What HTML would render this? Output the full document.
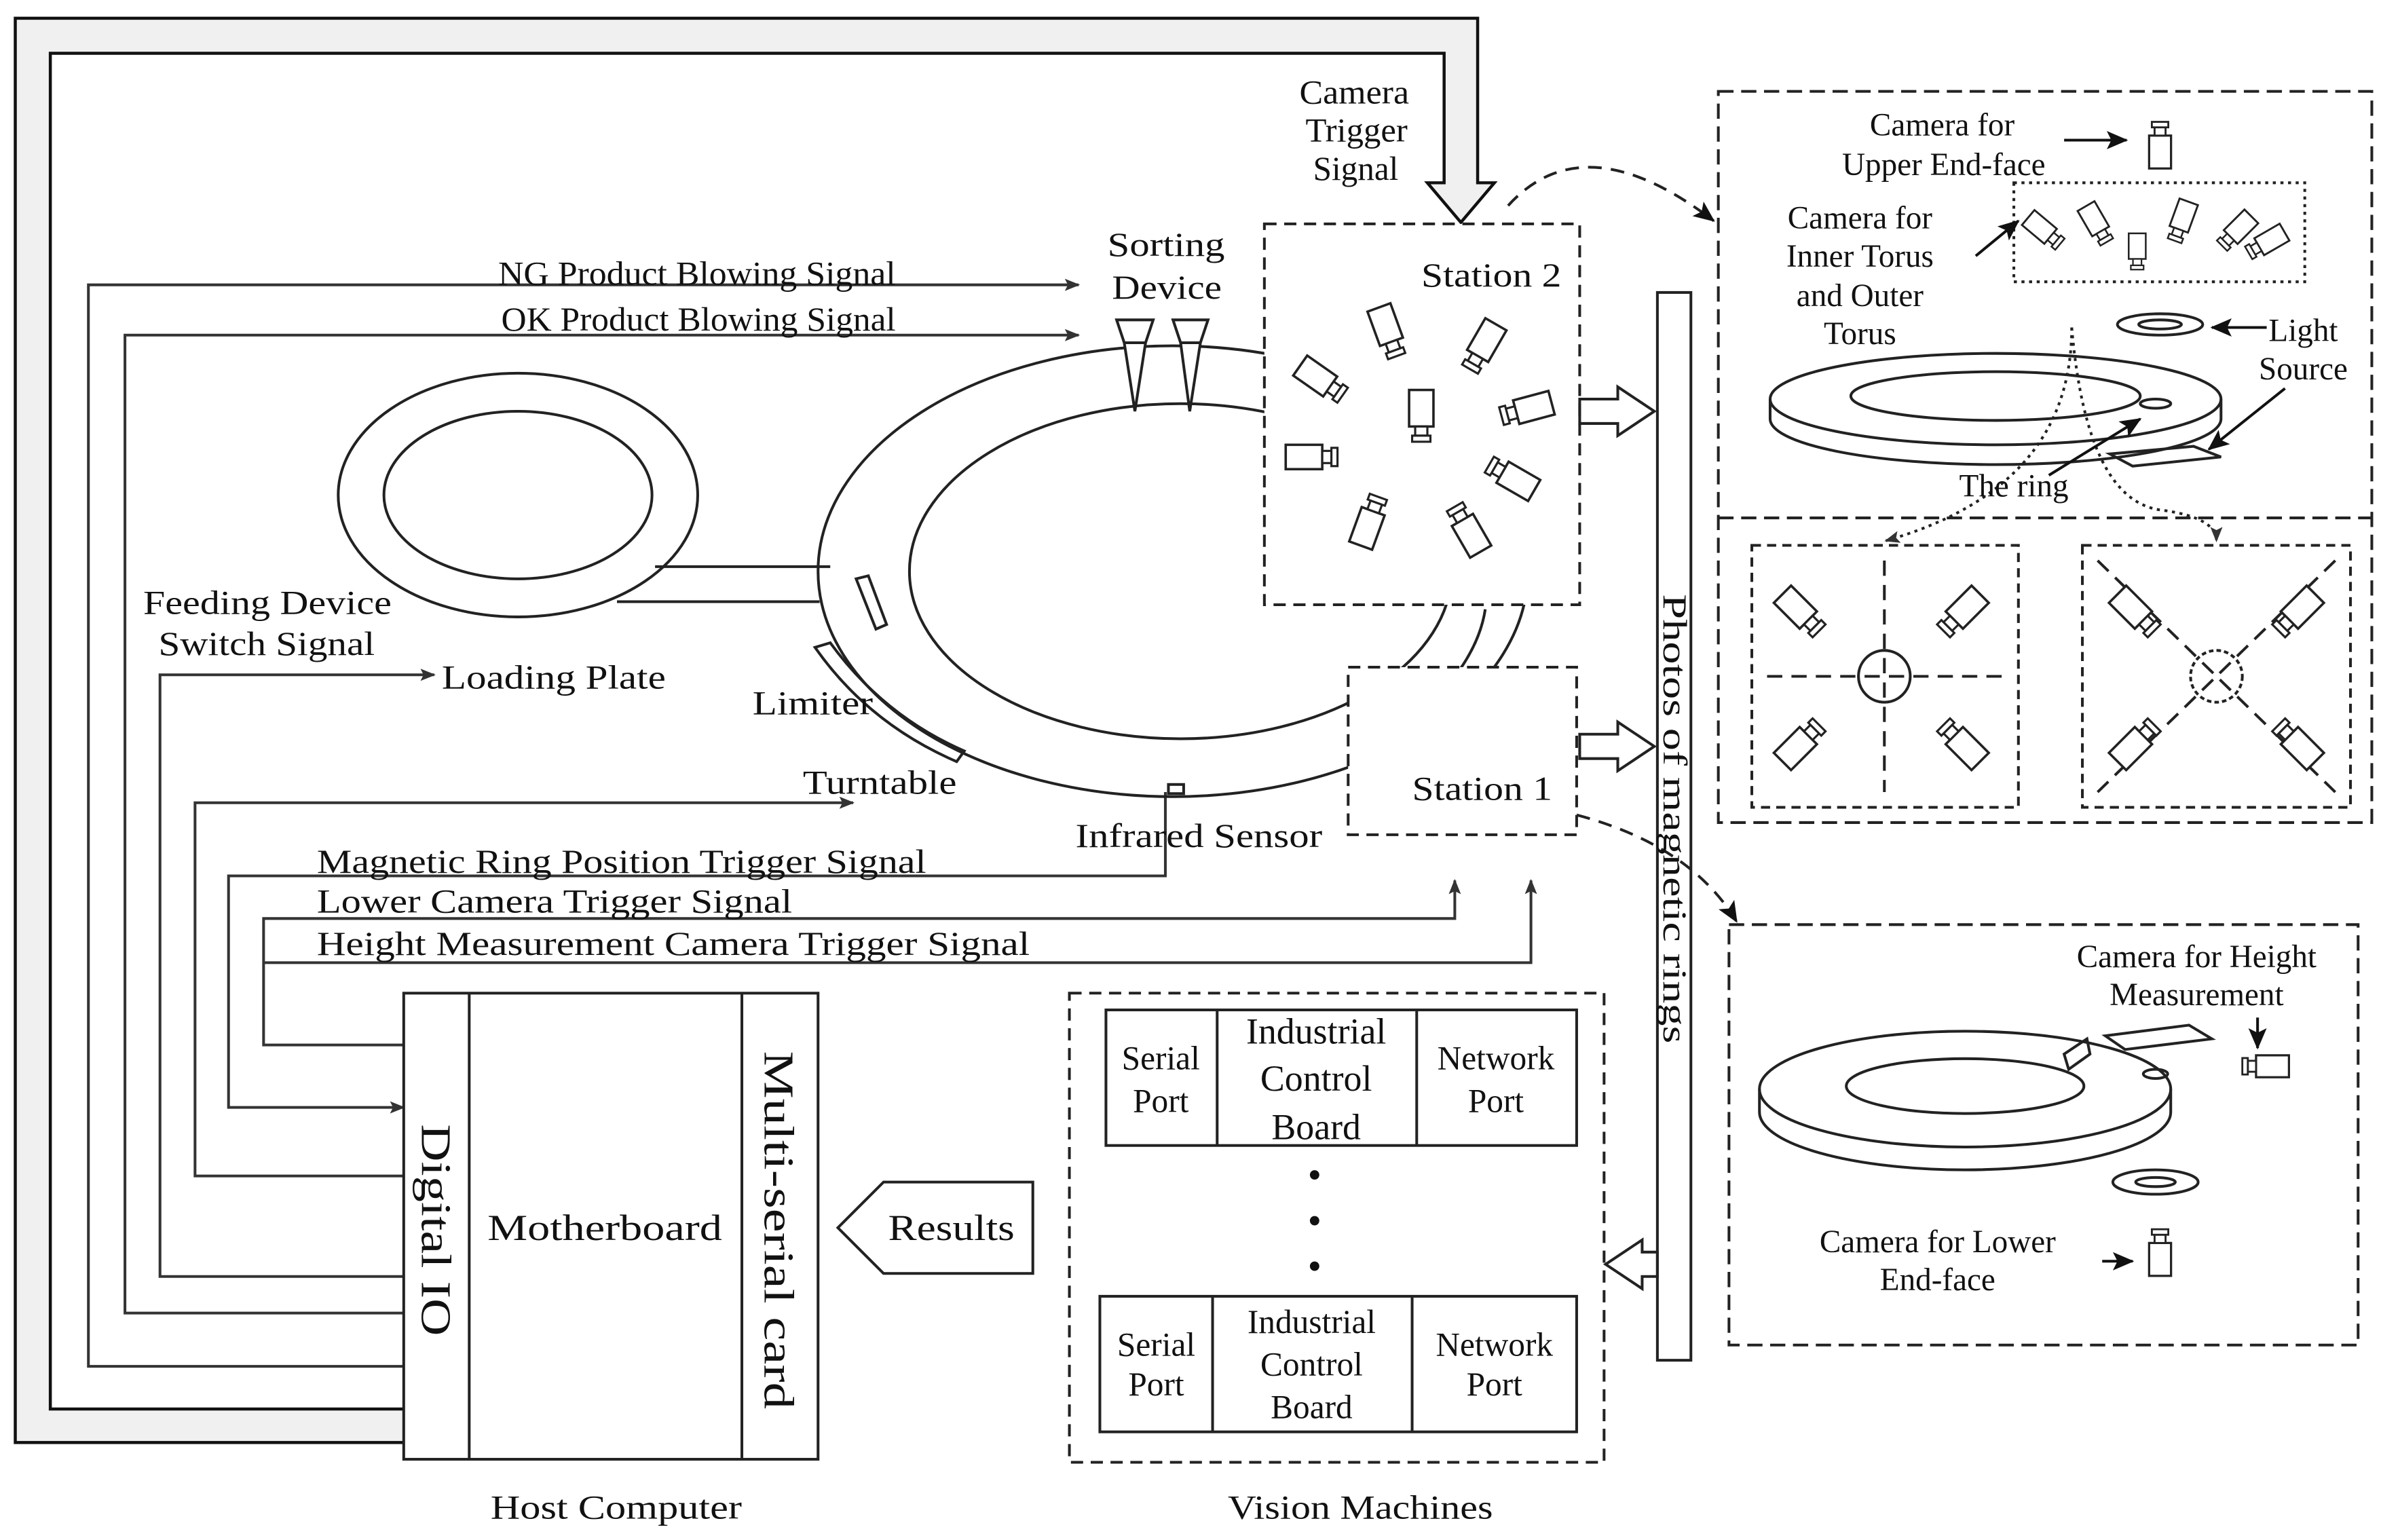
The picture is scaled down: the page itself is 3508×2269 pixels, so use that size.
<!DOCTYPE html>
<html><head><meta charset="utf-8"><style>
html,body{margin:0;padding:0;background:#fff}
svg{display:block}
text{font-family:"Liberation Serif",serif;fill:#111}
</style></head><body>
<svg width="3508" height="2269" viewBox="0 0 1563 1011" xmlns="http://www.w3.org/2000/svg">
<defs>
<marker id="ah" markerWidth="10" markerHeight="8" refX="9" refY="4" orient="auto" markerUnits="userSpaceOnUse" viewBox="0 0 10 8">
<path d="M0,0 L10,4 L0,8 L2,4 Z" fill="#333"/></marker>
<marker id="ah2" markerWidth="14" markerHeight="12" refX="13" refY="6" orient="auto" markerUnits="userSpaceOnUse" viewBox="0 0 14 12">
<path d="M0,0 L14,6 L0,12 L3,6 Z" fill="#111"/></marker>
<g id="cam"><rect x="-8" y="-14" width="16" height="24" fill="#fff" stroke="#222" stroke-width="1.6"/><rect x="-4" y="10" width="8" height="6" fill="#fff" stroke="#222" stroke-width="1.4"/><rect x="-6" y="16" width="12" height="4" fill="#fff" stroke="#222" stroke-width="1.4"/></g>
</defs>
<g fill="none" stroke="#333" stroke-width="1.8">
<path d="M265,947 L10,947 L10,12 L970,12 L970,120 L981,120 L959,146 L937,120 L948,120 L948,35 L33,35 L33,925 L265,925" fill="#f0f0f0" stroke="#111" stroke-width="2"/>
<path d="M265,897 L58,897 L58,187 L708,187" marker-end="url(#ah)"/>
<path d="M265,862 L82,862 L82,220 L708,220" marker-end="url(#ah)"/>
<path d="M265,838 L105,838 L105,443 L285,443" marker-end="url(#ah)"/>
<path d="M265,772 L128,772 L128,527 L560,527" marker-end="url(#ah)"/>
<path d="M765,520 L765,575 L150,575 L150,727 L265,727" marker-end="url(#ah)"/>
<path d="M265,686 L173,686 L173,603 L955,603 L955,578" marker-end="url(#ah)"/>
<path d="M173,632 L1005,632 L1005,578" marker-end="url(#ah)"/>
<ellipse cx="340" cy="325" rx="118" ry="80" stroke="#222"/>
<ellipse cx="340" cy="325" rx="88" ry="55" stroke="#222"/>
<path d="M430,372 L545,372 M405,395 L538,395" stroke="#222"/>
<ellipse cx="770" cy="375" rx="233" ry="148" stroke="#222"/>
<ellipse cx="775" cy="375" rx="178" ry="110" stroke="#222"/>
<path d="M562,380 L570,378 L582,410 L575,413 Z" stroke="#222"/>
<path d="M535,425 L545,422 Q580,470 633,493 L628,500 Q570,475 535,425 Z" stroke="#222"/>
<rect x="767" y="515" width="10" height="6" stroke="#222"/>
<path d="M975,400 Q972,420 958,440" stroke="#222"/>
<path d="M733,210 L757,210 L752,225 L745,270 L738,225 Z M770,210 L793,210 L788,225 L781,270 L775,225 Z" stroke="#222" fill="#fff"/>
<path d="M738,225 L752,225 M775,225 L788,225" stroke="#222"/>
</g>
<rect x="830" y="147" width="207" height="250" fill="#fff" stroke="#222" stroke-width="1.8" stroke-dasharray="8,5"/>
<rect x="885" y="438" width="150" height="110" fill="#fff" stroke="#222" stroke-width="1.8" stroke-dasharray="8,5"/>
<use href="#cam" transform="translate(910,215) rotate(-20)"/>
<use href="#cam" transform="translate(975,225) rotate(30)"/>
<use href="#cam" transform="translate(865,248) rotate(-55)"/>
<use href="#cam" transform="translate(933,270)"/>
<use href="#cam" transform="translate(1005,268) rotate(75)"/>
<use href="#cam" transform="translate(858,300) rotate(-90)"/>
<use href="#cam" transform="translate(995,315) rotate(120)"/>
<use href="#cam" transform="translate(898,345) rotate(-160)"/>
<use href="#cam" transform="translate(965,350) rotate(150)"/>
<g fill="none" stroke="#222" stroke-width="1.8">
<rect x="265" y="652" width="272" height="306" fill="#fff"/>
<path d="M308,652 L308,958 M487,652 L487,958"/>
<path d="M550,806 L580,776 L678,776 L678,836 L580,836 Z"/>
<rect x="702" y="652" width="351" height="308" stroke-dasharray="8,5"/>
<rect x="726" y="663" width="309" height="89"/>
<path d="M799,663 L799,752 M930,663 L930,752"/>
<rect x="722" y="851" width="313" height="89"/>
<path d="M796,851 L796,940 M927,851 L927,940"/>
<rect x="1088" y="192" width="22" height="701"/>
<path d="M1037,262 L1062,262 L1062,254 L1086,270 L1062,286 L1062,278 L1037,278 Z"/>
<path d="M1037,482 L1062,482 L1062,474 L1086,490 L1062,506 L1062,498 L1037,498 Z"/>
<path d="M1088,822 L1078,822 L1078,814 L1054,830 L1078,846 L1078,838 L1088,838 Z"/>
<rect x="1128" y="60" width="429" height="480" stroke-dasharray="10,5"/>
<path d="M1128,340 L1557,340" stroke-dasharray="10,5"/>
<rect x="1150" y="358" width="175" height="172" stroke-dasharray="6,4"/>
<rect x="1367" y="358" width="176" height="172" stroke-dasharray="6,4"/>
<rect x="1322" y="120" width="191" height="65" stroke-dasharray="2,3"/>
<rect x="1135" y="607" width="413" height="276" stroke-dasharray="10,5"/>
<path d="M990,135 Q1040,80 1125,145" stroke-dasharray="9,6" marker-end="url(#ah2)"/>
<path d="M1035,535 Q1110,555 1140,605" stroke-dasharray="9,6" marker-end="url(#ah2)"/>
<ellipse cx="1310" cy="262" rx="148" ry="30"/>
<path d="M1162,262 L1162,275 A148,30 0 0 0 1458,275 L1458,262"/>
<ellipse cx="1310" cy="260" rx="95" ry="16"/>
<ellipse cx="1418" cy="213" rx="28" ry="7"/><ellipse cx="1418" cy="213" rx="14" ry="3"/>
<ellipse cx="1415" cy="265" rx="10" ry="3"/>
<path d="M1385,298 L1440,293 L1458,300 L1400,306 Z"/>
<path d="M1360,215 Q1360,320 1238,355" stroke-dasharray="2,3" marker-end="url(#ah)"/>
<path d="M1360,215 Q1370,330 1420,335 Q1455,340 1455,355" stroke-dasharray="2,3" marker-end="url(#ah)"/>
<path d="M1160,444 L1315,444 M1237,368 L1237,520" stroke-dasharray="10,6"/>
<circle cx="1237" cy="444" r="17"/>
<path d="M1377,368 L1533,520 M1533,368 L1377,520" stroke-dasharray="10,6"/>
<circle cx="1455" cy="444" r="17" stroke-dasharray="3,2"/>
<ellipse cx="1290" cy="715" rx="135" ry="38"/>
<path d="M1155,715 L1155,730 A135,38 0 0 0 1425,730 L1425,715"/>
<ellipse cx="1290" cy="713" rx="78" ry="18"/>
<ellipse cx="1415" cy="705" rx="8" ry="3"/>
<path d="M1382,680 L1437,673 L1452,682 L1395,689 Z"/>
<path d="M1355,692 L1370,682 L1372,692 L1358,702 Z"/>
<ellipse cx="1415" cy="776" rx="28" ry="8"/><ellipse cx="1415" cy="776" rx="13" ry="3"/>
</g>
<use href="#cam" transform="translate(1418,98) rotate(180) scale(0.9)"/>
<use href="#cam" transform="translate(1340,150) rotate(-50) scale(0.8)"/>
<use href="#cam" transform="translate(1375,145) rotate(-30) scale(0.8)"/>
<use href="#cam" transform="translate(1403,163) scale(0.7)"/>
<use href="#cam" transform="translate(1433,143) rotate(20) scale(0.8)"/>
<use href="#cam" transform="translate(1470,150) rotate(45) scale(0.8)"/>
<use href="#cam" transform="translate(1490,158) rotate(60) scale(0.8)"/>
<use href="#cam" transform="translate(1180,400) rotate(-45)"/>
<use href="#cam" transform="translate(1290,400) rotate(45)"/>
<use href="#cam" transform="translate(1180,490) rotate(-135)"/>
<use href="#cam" transform="translate(1290,490) rotate(135)"/>
<use href="#cam" transform="translate(1400,400) rotate(-45)"/>
<use href="#cam" transform="translate(1510,400) rotate(45)"/>
<use href="#cam" transform="translate(1400,490) rotate(-135)"/>
<use href="#cam" transform="translate(1510,490) rotate(135)"/>
<use href="#cam" transform="translate(1490,700) rotate(90) scale(0.9)"/>
<use href="#cam" transform="translate(1418,825) rotate(180) scale(0.9)"/>
<g stroke="#111" stroke-width="1.8" fill="none">
<path d="M1355,92 L1396,92" marker-end="url(#ah2)"/>
<path d="M1297,168 L1325,145" marker-end="url(#ah2)"/>
<path d="M1488,215 L1452,215" marker-end="url(#ah2)"/>
<path d="M1500,255 L1450,295" marker-end="url(#ah2)"/>
<path d="M1345,312 L1405,275" marker-end="url(#ah2)"/>
<path d="M1482,668 L1482,688" marker-end="url(#ah2)"/>
<path d="M1380,828 L1400,828" marker-end="url(#ah2)"/>
</g>
<g font-size="22" lengthAdjust="spacingAndGlyphs">
<text x="853" y="68" textLength="72" lengthAdjust="spacingAndGlyphs">Camera</text>
<text x="857" y="93" textLength="67" lengthAdjust="spacingAndGlyphs">Trigger</text>
<text x="862" y="118" textLength="56" lengthAdjust="spacingAndGlyphs">Signal</text>
<text x="727" y="168" textLength="77" lengthAdjust="spacingAndGlyphs">Sorting</text>
<text x="730" y="196" textLength="72" lengthAdjust="spacingAndGlyphs">Device</text>
<text x="933" y="188" textLength="92" lengthAdjust="spacingAndGlyphs">Station 2</text>
<text x="927" y="525" textLength="92" lengthAdjust="spacingAndGlyphs">Station 1</text>
<text x="327" y="187" textLength="261" lengthAdjust="spacingAndGlyphs">NG Product Blowing Signal</text>
<text x="329" y="217" textLength="259" lengthAdjust="spacingAndGlyphs">OK Product Blowing Signal</text>
<text x="94" y="403" textLength="163" lengthAdjust="spacingAndGlyphs">Feeding Device</text>
<text x="104" y="430" textLength="142" lengthAdjust="spacingAndGlyphs">Switch Signal</text>
<text x="290" y="452" textLength="147" lengthAdjust="spacingAndGlyphs">Loading Plate</text>
<text x="494" y="469" textLength="79" lengthAdjust="spacingAndGlyphs">Limiter</text>
<text x="527" y="521" textLength="101" lengthAdjust="spacingAndGlyphs">Turntable</text>
<text x="706" y="556" textLength="162" lengthAdjust="spacingAndGlyphs">Infrared Sensor</text>
<text x="208" y="573" textLength="400" lengthAdjust="spacingAndGlyphs">Magnetic Ring Position Trigger Signal</text>
<text x="208" y="599" textLength="312" lengthAdjust="spacingAndGlyphs">Lower Camera Trigger Signal</text>
<text x="208" y="627" textLength="468" lengthAdjust="spacingAndGlyphs">Height Measurement Camera Trigger Signal</text>
<text x="320" y="814" textLength="154" lengthAdjust="spacingAndGlyphs" font-size="24">Motherboard</text>
<text transform="translate(277,738) rotate(90)" textLength="139" lengthAdjust="spacingAndGlyphs" font-size="28">Digital IO</text>
<text transform="translate(502,690) rotate(90)" textLength="235" lengthAdjust="spacingAndGlyphs" font-size="28">Multi-serial card</text>
<text x="583" y="814" textLength="83" lengthAdjust="spacingAndGlyphs" font-size="24">Results</text>
<text x="322" y="997" textLength="165" lengthAdjust="spacingAndGlyphs">Host Computer</text>
<text x="806" y="997" textLength="174" lengthAdjust="spacingAndGlyphs">Vision Machines</text>
<text x="762" y="702" text-anchor="middle">Serial</text>
<text x="762" y="730" text-anchor="middle">Port</text>
<text x="864" y="685" text-anchor="middle" font-size="24">Industrial</text>
<text x="864" y="716" text-anchor="middle" font-size="24">Control</text>
<text x="864" y="748" text-anchor="middle" font-size="24">Board</text>
<text x="982" y="702" text-anchor="middle">Network</text>
<text x="982" y="730" text-anchor="middle">Port</text>
<text x="759" y="890" text-anchor="middle">Serial</text>
<text x="759" y="916" text-anchor="middle">Port</text>
<text x="861" y="875" text-anchor="middle">Industrial</text>
<text x="861" y="903" text-anchor="middle">Control</text>
<text x="861" y="931" text-anchor="middle">Board</text>
<text x="981" y="890" text-anchor="middle">Network</text>
<text x="981" y="916" text-anchor="middle">Port</text>
<text x="863" y="780" text-anchor="middle" font-size="26">•</text>
<text x="863" y="810" text-anchor="middle" font-size="26">•</text>
<text x="863" y="840" text-anchor="middle" font-size="26">•</text>
<text transform="translate(1092,390) rotate(90)" textLength="295" lengthAdjust="spacingAndGlyphs" font-size="22">Photos of magnetic  rings</text>
<text x="1275" y="89" text-anchor="middle" font-size="21">Camera for</text>
<text x="1276" y="115" text-anchor="middle" font-size="21">Upper End-face</text>
<text x="1221" y="150" text-anchor="middle" font-size="21">Camera for</text>
<text x="1221" y="175" text-anchor="middle" font-size="21">Inner Torus</text>
<text x="1221" y="201" text-anchor="middle" font-size="21">and Outer</text>
<text x="1221" y="226" text-anchor="middle" font-size="21">Torus</text>
<text x="1512" y="224" text-anchor="middle" font-size="21">Light</text>
<text x="1512" y="249" text-anchor="middle" font-size="21">Source</text>
<text x="1322" y="326" text-anchor="middle" font-size="21">The ring</text>
<text x="1442" y="635" text-anchor="middle" font-size="21">Camera for Height</text>
<text x="1442" y="660" text-anchor="middle" font-size="21">Measurement</text>
<text x="1272" y="822" text-anchor="middle" font-size="21">Camera for Lower</text>
<text x="1272" y="847" text-anchor="middle" font-size="21">End-face</text>
</g>
</svg>
</body></html>
